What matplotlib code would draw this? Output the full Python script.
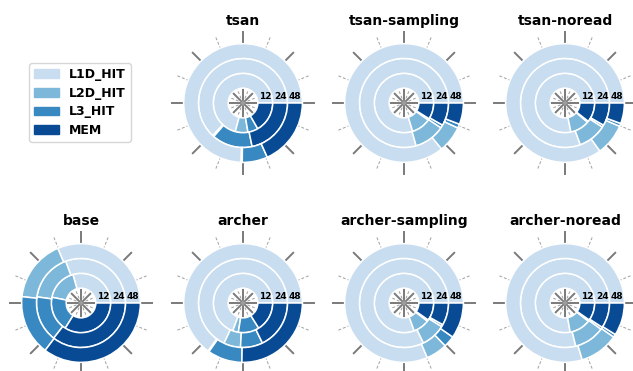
import numpy as np
import matplotlib
matplotlib.use("Agg")
import matplotlib.pyplot as plt
from matplotlib.patches import Patch

# Share of memory accesses served by each level (percent), per thread count.
threads = [12, 24, 48]
levels = ["L1D_HIT", "L2D_HIT", "L3_HIT", "MEM"]
colors = ["#c9ddf0", "#7db8da", "#3888c1", "#084b94"]

# rows: 12, 24, 48 threads; columns: L1D_HIT, L2D_HIT, L3_HIT, MEM
tsan = [[70.8, 6.9, 5.6, 16.7],
        [63.1, 0.5, 14.7, 21.7],
        [74.5, 0.3, 6.9, 18.3]]
tsan_sampling = [[79.7, 10.6, 0.8, 8.9],
                 [79.4, 11.2, 1.1, 8.3],
                 [85.9, 7.2, 1.1, 5.8]]
tsan_noread = [[78.2, 10.6, 0.6, 10.6],
               [80.6, 10.3, 0.8, 8.3],
               [85.0, 8.6, 0.8, 5.6]]
base = [[29.4, 17.5, 19.2, 33.9],
        [30.6, 17.2, 16.7, 35.5],
        [31.4, 16.9, 16.4, 35.3]]
archer = [[69.4, 3.1, 11.4, 16.1],
          [68.0, 6.1, 8.1, 17.8],
          [65.0, 0.3, 9.4, 25.3]]
archer_sampling = [[80.6, 8.9, 0.8, 9.7],
                   [82.2, 8.9, 0.8, 8.1],
                   [81.4, 5.8, 3.1, 9.7]]
archer_noread = [[77.8, 11.7, 0.8, 9.7],
                 [78.9, 11.1, 0.8, 9.2],
                 [79.7, 10.6, 0.8, 8.9]]

panels = {
    "tsan": tsan,
    "tsan-sampling": tsan_sampling,
    "tsan-noread": tsan_noread,
    "base": base,
    "archer": archer,
    "archer-sampling": archer_sampling,
    "archer-noread": archer_noread,
}
# grid slot (row, col) of each panel; slot (0, 0) holds the legend
slots = {
    "tsan": (0, 1), "tsan-sampling": (0, 2), "tsan-noread": (0, 3),
    "base": (1, 0), "archer": (1, 1), "archer-sampling": (1, 2),
    "archer-noread": (1, 3),
}

W, H = 633, 371
fig = plt.figure(figsize=(W / 100, H / 100), dpi=100)

col_cx = [81, 243, 404, 565]   # panel centres, pixels
row_cy = [103, 303]
half = 72                      # half-size of each polar axes, pixels
r_max = 4.85

for name, data in panels.items():
    row, col = slots[name]
    cx, cy = col_cx[col], row_cy[row]
    ax = fig.add_axes([(cx - half) / W, (H - cy - half) / H,
                       2 * half / W, 2 * half / H], projection="polar")
    ax.set_axisbelow(True)
    for ring, shares in enumerate(data):
        shares = np.asarray(shares, dtype=float)
        frac = shares / shares.sum()
        starts = 2 * np.pi * np.concatenate([[0], np.cumsum(frac)[:-1]])
        ax.bar(starts, 1.0, width=2 * np.pi * frac, bottom=1 + ring,
               align="edge", color=colors, edgecolor="white", linewidth=1.1)
        ax.annotate(str(threads[ring]), xy=(0.0, 1.5 + ring),
                    xytext=(0, 1.5), textcoords="offset points",
                    ha="center", va="bottom", fontsize=6.5,
                    fontweight="bold", annotation_clip=False)
    ax.set_ylim(0, r_max)
    ax.set_yticks([])
    ax.set_xticks(np.deg2rad(np.arange(0, 360, 45)))
    ax.set_xticks(np.deg2rad(np.arange(22.5, 360, 45)), minor=True)
    ax.set_xticklabels([])
    ax.tick_params(axis="x", which="both", length=0)
    ax.xaxis.grid(True, which="major", color="#7a7a7a", linewidth=1.4,
                  linestyle="-")
    ax.xaxis.grid(True, which="minor", color="#a0a0a0", linewidth=0.7,
                  linestyle=(0, (3, 2)))
    ax.spines["polar"].set_visible(False)
    ax.set_title(name, fontsize=10, fontweight="bold", pad=4)

handles = [Patch(facecolor=c, edgecolor=c, label=l)
           for c, l in zip(colors, levels)]
fig.legend(handles=handles, loc="upper left",
           bbox_to_anchor=(29 / W, 1 - 63 / H), borderaxespad=0,
           prop={"weight": "bold", "size": 9}, labelspacing=0.45,
           handlelength=2.0)

fig.savefig("out.png", dpi=100)
